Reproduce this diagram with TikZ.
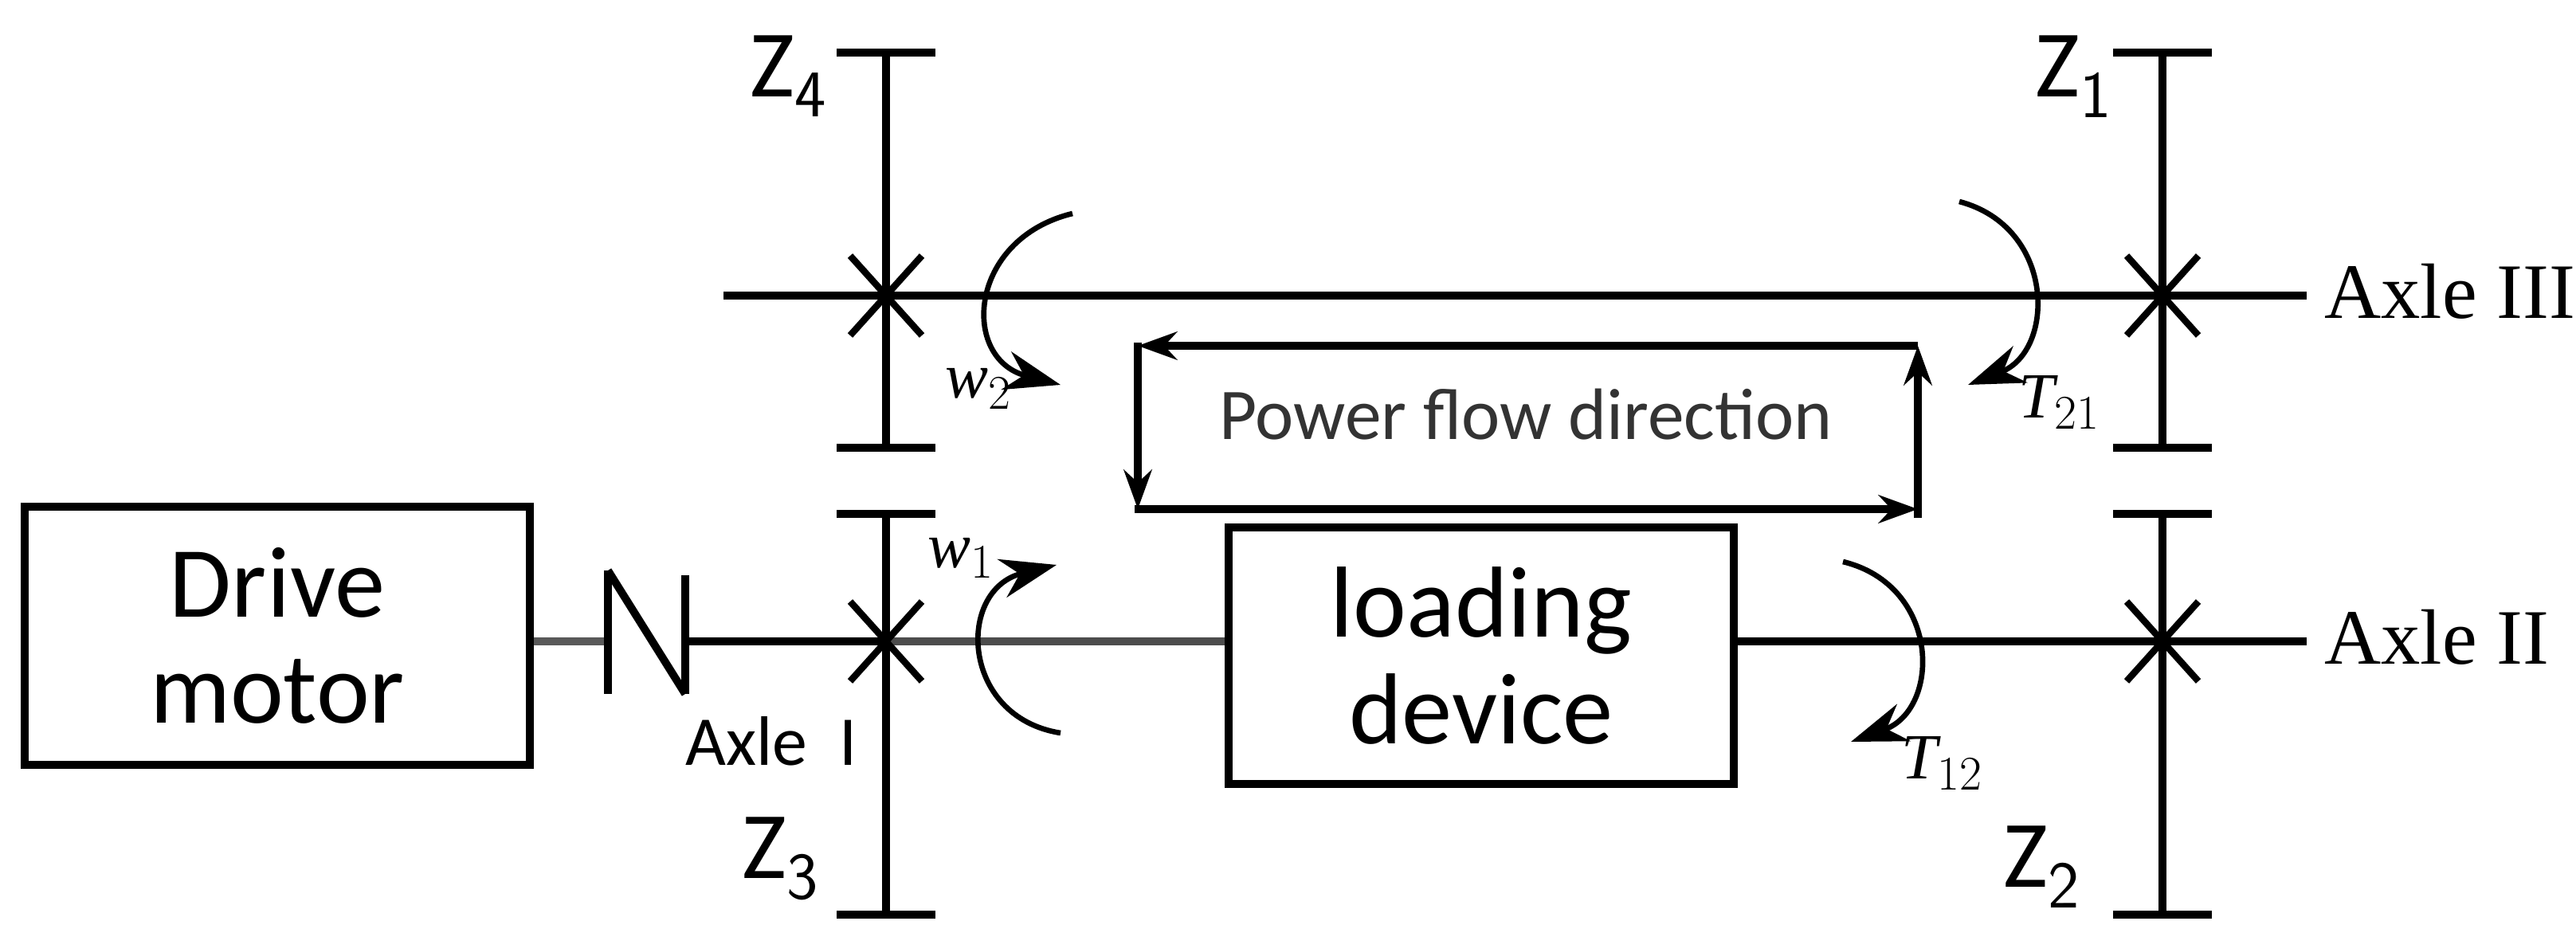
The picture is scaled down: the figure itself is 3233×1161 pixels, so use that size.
\documentclass[tikz,border=0pt]{standalone}
\usepackage{fontspec}
\setmainfont{Liberation Serif}
\newfontfamily\carl{Carlito}
\usetikzlibrary{arrows.meta}
\begin{document}
\begin{tikzpicture}[x=0.01cm,y=-0.01cm,
  thick line/.style={line width=2.8pt},
  rot/.style={line width=1.9pt,-{Stealth[length=20pt,width=14pt]}},
  flow/.style={line width=2.6pt,-{Stealth[length=14pt,width=10pt]}},
  big/.style={font=\carl\fontsize{36}{42}\selectfont,align=center},
  zl/.style={font=\carl\fontsize{34}{40}\selectfont},
  axl/.style={anchor=west,font=\fontsize{28}{32}\selectfont},
  sym/.style={font=\fontsize{23}{26}\selectfont\itshape}]
\useasboundingbox (0,0) rectangle (3233,1161);
% boxes
\node[thick line,draw,big,inner sep=0pt,minimum width=6.34cm,minimum height=3.23cm] (motor) at (348,798) {Drive\\[-4pt]motor};
\node[thick line,draw,big,inner sep=0pt,minimum width=6.34cm,minimum height=3.22cm] (load) at (1859,823) {loading\\[-4pt]device};
% coupling
\coordinate (c1) at (763,805); \coordinate (c2) at (860,805);
\draw[line width=2.8pt,gray!70!black] (motor.east|-c1) -- (c1);
\draw[thick line] (763,716) -- (763,871);
\draw[thick line] (763,716) -- (860,871);
\draw[thick line] (860,722) -- (860,871);
% axle II
\coordinate (a2end) at (2895,805);
\draw[thick line] (c2) -- (1112,805);
\draw[line width=2.8pt,gray!60!black] (1112,805) -- (load.west|-c2);
\draw[thick line] (load.east|-c2) -- (a2end);
\node[axl] (ax2) at (2905,800) {Axle II};
% axle III
\coordinate (a3s) at (908,371); \coordinate (a3e) at (2895,371);
\draw[thick line] (a3s) -- (a3e);
\node[axl] (ax3) at (2905,366) {Axle III};
% gears
\foreach \gx in {1112,2714}{
  \draw[thick line] (\gx,66) -- (\gx,562);
  \draw[thick line] (\gx-62,66) -- (\gx+62,66);
  \draw[thick line] (\gx-62,562) -- (\gx+62,562);
  \draw[thick line] (\gx,645) -- (\gx,1148);
  \draw[thick line] (\gx-62,645) -- (\gx+62,645);
  \draw[thick line] (\gx-62,1148) -- (\gx+62,1148);
  \foreach \gy in {371,805}{
    \draw[line width=2.4pt] (\gx-45,\gy-50) -- (\gx+45,\gy+50);
    \draw[line width=2.4pt] (\gx-45,\gy+50) -- (\gx+45,\gy-50);
  }
}
\node[zl] (z4) at (990,96) {Z$_{\mathsf 4}$};
\node[zl] (z3) at (980,1078) {Z$_{\mathsf 3}$};
\node[zl] (z1) at (2603,96) {Z$_{\mathsf 1}$};
\node[zl] (z2) at (2563,1088) {Z$_{\mathsf 2}$};
\node[font=\carl\fontsize{25}{30}\selectfont] (ax1) at (968,930) {Axle\ \ I};
% rotations
\draw[rot] (1346,268) .. controls (1215,300) and (1205,450) .. (1331,483);
\node[sym] (w2) at (1228,488) {w$_{\scriptstyle 2}$};
\draw[rot] (1331,920) .. controls (1205,900) and (1200,740) .. (1326,709);
\node[sym] (w1) at (1206,700) {w$_{\scriptstyle 1}$};
\draw[rot] (2459,253) .. controls (2580,285) and (2580,440) .. (2470,483);
\node[sym] (t21) at (2585,505) {T$_{\scriptstyle 21}$};
\draw[rot] (2313,705) .. controls (2436,735) and (2436,890) .. (2323,931);
\node[sym] (t12) at (2438,958) {T$_{\scriptstyle 12}$};
% power flow
\coordinate (tl) at (1428,434); \coordinate (tr) at (2407,434);
\coordinate (bl) at (1428,639); \coordinate (br) at (2407,639);
\draw[flow] (tr) -- (tl);
\draw[flow] (1428,430) -- (bl);
\draw[flow] (1424,639) -- (br);
\draw[flow] (2407,650) -- (tr);
\node[font=\carl\fontsize{26}{30}\selectfont,text=black!80] (pf) at (1915,520) {Power flow direction};
\end{tikzpicture}
\end{document}
